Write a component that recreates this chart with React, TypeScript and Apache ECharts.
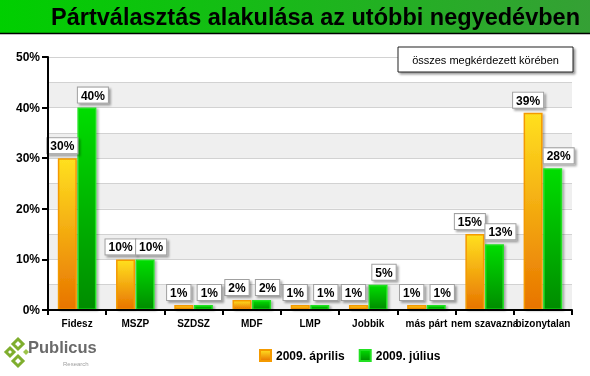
import { useEffect, useRef } from "react";
import * as echarts from "echarts";

const categories = ["Fidesz", "MSZP", "SZDSZ", "MDF", "LMP", "Jobbik", "más párt", "nem szavazna", "bizonytalan"];
const aprilValues = [30, 10, 1, 2, 1, 1, 1, 15, 39];
const julyValues = [40, 10, 1, 2, 1, 5, 1, 13, 28];
const seriesNames = ["2009. április", "2009. július"];
const titleText = "Pártválasztás alakulása az utóbbi negyedévben";
const noteText = "összes megkérdezett körében";

const FONT = "'Liberation Sans', Arial, sans-serif";

function labelCfg(dx: number) {
  return {
    show: true,
    position: "top" as const,
    distance: 5,
    offset: [dx, 0],
    formatter: "{c}%",
    backgroundColor: "#ffffff",
    borderColor: "#a0a0a0",
    borderWidth: 1,
    padding: [2, 3, 1, 3],
    color: "#000",
    fontWeight: "bold" as const,
    fontSize: 12,
    fontFamily: FONT,
    shadowColor: "rgba(0,0,0,0.35)",
    shadowOffsetX: 2,
    shadowOffsetY: 2,
    shadowBlur: 2,
  };
}

const diamond = (cx: number, cy: number, r: number) => [
  [cx, cy - r],
  [cx + r, cy],
  [cx, cy + r],
  [cx - r, cy],
];

export default function App() {
  const ref = useRef<HTMLDivElement>(null);
  useEffect(() => {
    if (!ref.current) return;
    const chart = echarts.init(ref.current, null, { renderer: "svg" });
    const orange = new echarts.graphic.LinearGradient(0, 0, 0, 1, [
      { offset: 0, color: "#ffe020" },
      { offset: 1, color: "#e87400" },
    ]);
    const green = new echarts.graphic.LinearGradient(0, 0, 0, 1, [
      { offset: 0, color: "#00dd00" },
      { offset: 1, color: "#008c00" },
    ]);
    chart.setOption({
      animation: false,
      textStyle: { fontFamily: FONT },
      grid: { left: 48, right: 18, top: 57, bottom: 66 },
      legend: {
        left: 254,
        top: 344,
        itemWidth: 11,
        itemHeight: 11,
        itemGap: 14,
        icon: "rect",
        textStyle: { fontWeight: "bold", fontSize: 12, color: "#000", fontFamily: FONT },
        data: seriesNames,
      },
      xAxis: {
        type: "category",
        data: categories,
        axisLine: { lineStyle: { color: "#000", width: 2 } },
        axisTick: { show: true, length: 5, lineStyle: { color: "#000", width: 2 } },
        axisLabel: { interval: 0, fontWeight: "bold", fontSize: 10, color: "#000", margin: 8, fontFamily: FONT },
        z: 10,
      },
      yAxis: [
        {
          type: "value",
          min: 0,
          max: 50,
          interval: 10,
          axisLine: { show: true, lineStyle: { color: "#000", width: 2 } },
          axisTick: { show: true, length: 6, lineStyle: { color: "#000", width: 2 } },
          axisLabel: { formatter: "{value}%", fontWeight: "bold", fontSize: 12, color: "#000", margin: 8, fontFamily: FONT },
          splitLine: { show: false },
          z: 10,
        },
        {
          type: "value",
          min: 0,
          max: 50,
          interval: 5,
          position: "left",
          axisLine: { show: false },
          axisTick: { show: false },
          axisLabel: { show: false },
          splitLine: { show: true, lineStyle: { color: "#d2d2d2", width: 1 } },
          splitArea: { show: true, areaStyle: { color: ["#efefef", "#ffffff"] } },
        },
      ],
      series: [
        {
          name: seriesNames[0],
          type: "bar",
          yAxisIndex: 0,
          data: aprilValues,
          barWidth: 19,
          barGap: "3%",
          itemStyle: {
            color: orange,
            borderColor: "#f49a00",
            borderWidth: 1.5,
            shadowColor: "rgba(0,0,0,0.3)",
            shadowOffsetX: 2,
            shadowOffsetY: 1,
            shadowBlur: 2,
          },
          label: labelCfg(-5),
        },
        {
          name: seriesNames[1],
          type: "bar",
          yAxisIndex: 0,
          data: julyValues,
          barWidth: 19,
          itemStyle: {
            color: green,
            borderColor: "#22e022",
            borderWidth: 1.5,
            shadowColor: "rgba(0,0,0,0.3)",
            shadowOffsetX: 2,
            shadowOffsetY: 1,
            shadowBlur: 2,
          },
          label: labelCfg(6),
        },
      ],
      graphic: [
        {
          type: "rect",
          shape: { x: 0, y: 0, width: 590, height: 33 },
          style: {
            fill: new echarts.graphic.LinearGradient(0, 0, 1, 0, [
              { offset: 0, color: "#00cf00" },
              { offset: 1, color: "#35a035" },
            ]),
          },
          z: 0,
        },
        {
          type: "line",
          shape: { x1: 0, y1: 33.5, x2: 590, y2: 33.5 },
          style: { stroke: "#000", lineWidth: 1.5 },
        },
        {
          type: "text",
          x: 580,
          y: 17,
          style: {
            text: titleText,
            textAlign: "right",
            textVerticalAlign: "middle",
            font: `bold 23.5px ${FONT}`,
            fill: "#000",
          },
        },
        {
          type: "rect",
          shape: { x: 398, y: 47, width: 175, height: 25 },
          style: {
            fill: "#fff",
            stroke: "#222",
            lineWidth: 1,
            shadowColor: "rgba(0,0,0,0.4)",
            shadowOffsetX: 2,
            shadowOffsetY: 2,
            shadowBlur: 2,
          },
          z: 20,
        },
        {
          type: "text",
          x: 485.5,
          y: 59.5,
          style: {
            text: noteText,
            textAlign: "center",
            textVerticalAlign: "middle",
            font: `11px ${FONT}`,
            fill: "#000",
          },
          z: 21,
        },
        {
          type: "polygon",
          shape: { points: diamond(18, 344, 5) },
          style: { fill: "none", stroke: "#7fae2e", lineWidth: 3 },
        },
        {
          type: "polygon",
          shape: { points: diamond(10, 352, 4) },
          style: { fill: "none", stroke: "#7fae2e", lineWidth: 3 },
        },
        {
          type: "polygon",
          shape: { points: diamond(18, 361, 5) },
          style: { fill: "none", stroke: "#7fae2e", lineWidth: 3 },
        },
        {
          type: "polygon",
          shape: { points: diamond(26, 352, 3) },
          style: { fill: "#9cc44a", stroke: "none" },
        },
        {
          type: "text",
          x: 28,
          y: 347,
          style: {
            text: "Publicus",
            textVerticalAlign: "middle",
            font: `bold 16.5px ${FONT}`,
            fill: "#6a6a6a",
          },
        },
        {
          type: "text",
          x: 63,
          y: 364,
          style: {
            text: "Research",
            textVerticalAlign: "middle",
            font: `6px ${FONT}`,
            fill: "#a0a0a0",
          },
        },
      ],
    });
    return () => chart.dispose();
  }, []);
  return <div ref={ref} style={{ position: "fixed", left: 0, top: 0, width: 590, height: 376 }} />;
}
